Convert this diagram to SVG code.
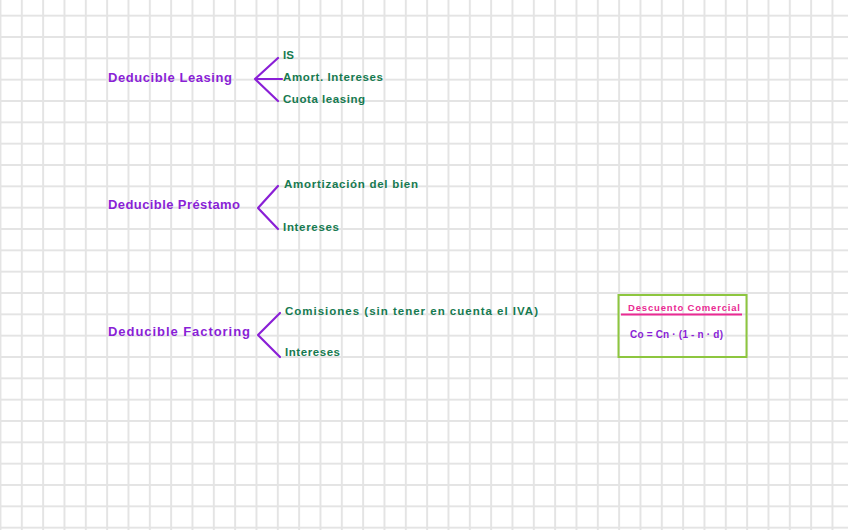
<svg xmlns="http://www.w3.org/2000/svg" width="848" height="530" viewBox="0 0 848 530">
<defs>
<pattern id="grid" x="-0.5" y="14.7" width="21.333" height="21.333" patternUnits="userSpaceOnUse">
<path d="M1 0 V21.333 M0 1 H21.333" fill="none" stroke="#e4e4e4" stroke-width="2"/>
</pattern>
</defs>
<style>
.main{font-family:"Liberation Sans",Arial,sans-serif;font-size:13px;font-weight:bold;fill:#8a1fd6}
.br{font-family:"Liberation Sans",Arial,sans-serif;font-size:11.5px;font-weight:bold;fill:#167a50}
.ln{fill:none;stroke:#8a1fd6;stroke-width:2.2;stroke-linecap:round;stroke-linejoin:round}
.title{font-family:"Liberation Sans",Arial,sans-serif;font-size:9.5px;font-weight:bold;fill:#ea2a93}
.formula{font-family:"Liberation Sans",Arial,sans-serif;font-size:10px;font-weight:bold;fill:#8a1fd6}
</style>
<rect width="848" height="530" fill="#ffffff"/>
<rect width="848" height="530" fill="url(#grid)"/>

<g id="connectors">
<path class="ln" d="M278 58 L255 79 L278 101 M255 79 L282 79"/>
<path class="ln" d="M278 186 L258 208 L278 229"/>
<path class="ln" d="M280 313 L258 335 L280 357"/>
</g>

<g id="leasing">
<text class="main" x="108" y="82" textLength="124" lengthAdjust="spacing">Deducible Leasing</text>
</g>
<g id="leasing-is"><text class="br" x="283" y="59">IS</text></g>
<g id="leasing-amort"><text class="br" x="283" y="81" textLength="100" lengthAdjust="spacing">Amort. Intereses</text></g>
<g id="leasing-cuota"><text class="br" x="283" y="103" textLength="82" lengthAdjust="spacing">Cuota leasing</text></g>

<g id="prestamo">
<text class="main" x="108" y="209" textLength="132" lengthAdjust="spacing">Deducible Préstamo</text>
</g>
<g id="prestamo-amort"><text class="br" x="284" y="188" textLength="134" lengthAdjust="spacing">Amortización del bien</text></g>
<g id="prestamo-int"><text class="br" x="283" y="231" textLength="56" lengthAdjust="spacing">Intereses</text></g>

<g id="factoring">
<text class="main" x="108" y="336" textLength="142" lengthAdjust="spacing">Deducible Factoring</text>
</g>
<g id="factoring-com"><text class="br" x="285" y="315" textLength="253" lengthAdjust="spacing">Comisiones (sin tener en cuenta el IVA)</text></g>
<g id="factoring-int"><text class="br" x="285" y="356" textLength="55" lengthAdjust="spacing">Intereses</text></g>

<g id="descuento">
<rect x="618.5" y="295" width="128" height="62" fill="none" stroke="#8dc63f" stroke-width="2"/>
<text class="title" x="628" y="311" textLength="112" lengthAdjust="spacing">Descuento Comercial</text>
<line x1="621" y1="314.5" x2="742" y2="314.5" stroke="#ea2a93" stroke-width="1.8"/>
<text class="formula" x="630" y="338" textLength="93" lengthAdjust="spacing">Co = Cn · (1 - n · d)</text>
</g>
</svg>
